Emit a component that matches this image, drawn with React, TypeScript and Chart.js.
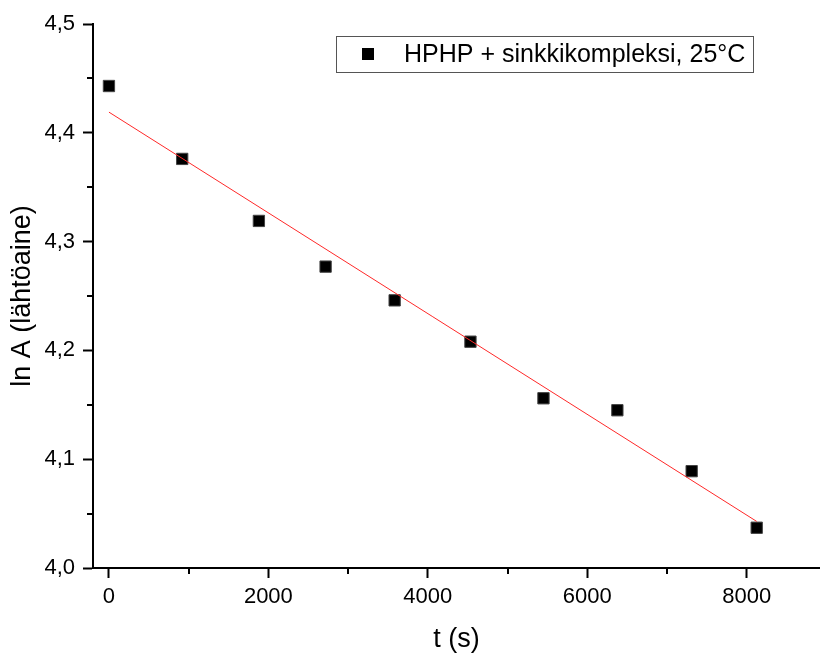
import React, { useEffect, useRef } from "react";
import { Chart, registerables } from "chart.js";

Chart.register(...registerables);

const seriesLabel = "HPHP + sinkkikompleksi, 25°C";
const timeS = [0, 919, 1881, 2718, 3584, 4535, 5451, 6378, 7310, 8126];
const lnA = [4.443, 4.376, 4.319, 4.277, 4.246, 4.208, 4.156, 4.145, 4.089, 4.037];
const fitX = [0, 8126];
const fitY = [4.419, 4.0428];
const xMajorTicks = [0, 2000, 4000, 6000, 8000];
const xMinorTicks = [1000, 3000, 5000, 7000];
const yMajorTicks = [4.0, 4.1, 4.2, 4.3, 4.4, 4.5];
const yMinorTicks = [4.05, 4.15, 4.25, 4.35, 4.45];
const xTitle = "t (s)";
const yTitle = "ln A (lähtöaine)";

const FONT = "Arial, 'Liberation Sans', sans-serif";

const minorTicksPlugin = {
  id: "minorTicks",
  afterDraw(chart: any) {
    const ctx = chart.ctx;
    const xs = chart.scales.x;
    const ys = chart.scales.y;
    const area = chart.chartArea;
    ctx.save();
    ctx.strokeStyle = "#000";
    ctx.lineWidth = 2;
    ctx.beginPath();
    for (const v of xMinorTicks) {
      const px = Math.round(xs.getPixelForValue(v));
      ctx.moveTo(px, area.bottom);
      ctx.lineTo(px, area.bottom + 6);
    }
    for (const v of yMinorTicks) {
      const py = Math.round(ys.getPixelForValue(v));
      ctx.moveTo(area.left, py);
      ctx.lineTo(area.left - 6, py);
    }
    ctx.stroke();
    ctx.restore();
  },
};

const boxLegendPlugin = {
  id: "boxLegend",
  afterDraw(chart: any) {
    const ctx = chart.ctx;
    const ds = chart.data.datasets[1];
    ctx.save();
    ctx.strokeStyle = "#555";
    ctx.lineWidth = 1;
    ctx.strokeRect(336.5, 36.5, 417, 36);
    ctx.fillStyle = "#000";
    ctx.fillRect(362, 48, 12, 12);
    ctx.font = `25px ${FONT}`;
    ctx.textBaseline = "middle";
    ctx.textAlign = "left";
    ctx.fillText(ds.label, 404, 55);
    ctx.restore();
  },
};

export default function App() {
  const canvasRef = useRef<HTMLCanvasElement | null>(null);

  useEffect(() => {
    if (!canvasRef.current) return;
    const chart = new Chart(canvasRef.current, {
      type: "scatter",
      data: {
        datasets: [
          {
            label: "fit",
            data: fitX.map((x, i) => ({ x, y: fitY[i] })),
            showLine: true,
            borderColor: "rgb(255,40,40)",
            borderWidth: 1,
            pointRadius: 0,
            order: 0,
          },
          {
            label: seriesLabel,
            data: timeS.map((x, i) => ({ x, y: lnA[i] })),
            showLine: false,
            pointStyle: "rect",
            pointRadius: 8,
            backgroundColor: "#000",
            borderColor: "#444",
            borderWidth: 1,
            order: 1,
          },
        ],
      },
      options: {
        animation: false,
        responsive: false,
        maintainAspectRatio: false,
        layout: { autoPadding: false, padding: { top: 24, right: 0, left: 0, bottom: 0 } },
        plugins: {
          legend: { display: false },
          tooltip: { enabled: false },
        },
        scales: {
          x: {
            type: "linear",
            min: -200,
            max: 8920,
            afterFit: (s: any) => {
              s.height = 89;
              s.paddingLeft = 0;
              s.paddingRight = 0;
            },
            afterBuildTicks: (s: any) => {
              s.ticks = xMajorTicks.map((v) => ({ value: v }));
            },
            grid: {
              drawOnChartArea: false,
              drawTicks: true,
              tickLength: 10,
              tickColor: "#000",
              tickWidth: 2,
            },
            border: { display: true, color: "#000", width: 2 },
            ticks: {
              color: "#000",
              padding: 6,
              maxRotation: 0,
              font: { family: FONT, size: 22 },
              callback: (v: any) => String(v),
            },
            title: {
              display: true,
              text: xTitle,
              color: "#000",
              font: { family: FONT, size: 27 },
              padding: { top: 0, bottom: 1 },
            },
          },
          y: {
            type: "linear",
            min: 4.0,
            max: 4.5,
            afterFit: (s: any) => {
              s.width = 93;
              s.paddingTop = 0;
              s.paddingBottom = 0;
            },
            afterBuildTicks: (s: any) => {
              s.ticks = yMajorTicks.map((v) => ({ value: v }));
            },
            grid: {
              drawOnChartArea: false,
              drawTicks: true,
              tickLength: 10,
              tickColor: "#000",
              tickWidth: 2,
            },
            border: { display: true, color: "#000", width: 2 },
            ticks: {
              color: "#000",
              padding: 8,
              font: { family: FONT, size: 22 },
              callback: (v: any) => Number(v).toFixed(1).replace(".", ","),
            },
            title: {
              display: true,
              text: yTitle,
              color: "#000",
              font: { family: FONT, size: 27 },
              padding: { top: 6, bottom: 0 },
            },
          },
        },
      },
      plugins: [minorTicksPlugin, boxLegendPlugin],
    });
    return () => chart.destroy();
  }, []);

  return (
    <div style={{ position: "fixed", left: 0, top: 0, width: 820, height: 657, background: "#fff" }}>
      <canvas ref={canvasRef} width={820} height={657} style={{ display: "block", width: 820, height: 657 }} />
    </div>
  );
}
